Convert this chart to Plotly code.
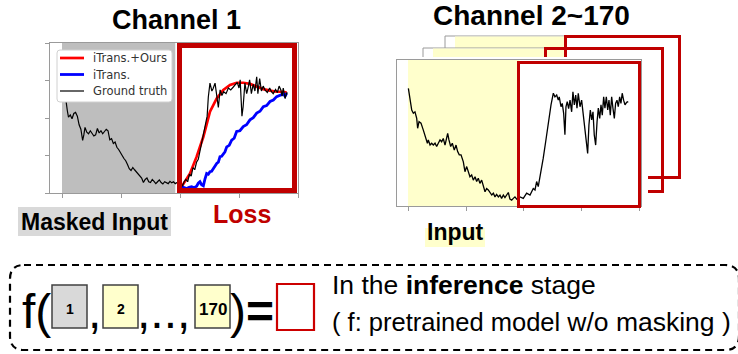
import plotly.graph_objects as go

W, H = 738, 354

# ---------------- data (time index, value in axis units 0..4) ----------------
# Channel 1 ground truth (input 0..96, horizon 96..192)
ch1_gt_t = [0, 1.5, 3, 4.5, 5.5, 7, 8.5, 10, 11.5, 13, 14.5, 16, 17.5, 18.5, 19.5, 21, 22.5, 24, 25.5,
            27, 28.5, 30, 31.5, 33, 34.5, 36, 37.5, 39, 40.5, 42, 43.5, 45, 46.5, 48, 49.5, 51, 52.5,
            54, 55.5, 57, 58.5, 60, 61.5, 63, 64.5, 66, 67.5, 69, 70.5, 72, 73.5, 75, 76.5, 78, 79.5,
            81, 82.5, 84, 85.5, 87, 88.5, 90, 91.5, 93, 94.5, 96, 97.5, 99, 100.5, 102, 103.5, 105,
            106.5, 108, 109.5, 111, 112.5, 114, 115.5, 117, 118.5, 120, 121.5, 123, 124, 125.4, 127,
            128, 129.7, 131.4, 132.5, 134, 135.5, 137, 139, 141, 143, 145, 147, 148.5, 150, 151,
            152.5, 153.5, 155, 156.5, 158, 159, 160.5, 162, 163.5, 165, 166, 167.5, 169, 170.5, 172,
            174, 176, 177.5, 179, 181, 182.5, 184, 185.5, 186.5, 187.5, 189, 190.5, 191]
ch1_gt = [3.25, 2.95, 2.55, 2.2, 2.02, 2.08, 1.98, 2.12, 2.15, 2.05, 1.82, 1.7, 1.4, 1.55, 1.75, 1.62,
          1.58, 1.66, 1.6, 1.52, 1.55, 1.72, 1.6, 1.66, 1.58, 1.64, 1.7, 1.66, 1.42, 1.45, 1.32, 1.36,
          1.22, 1.16, 1.06, 1.0, 0.92, 0.86, 0.76, 0.65, 0.6, 0.68, 0.62, 0.56, 0.52, 0.47, 0.4, 0.28,
          0.36, 0.4, 0.3, 0.28, 0.36, 0.31, 0.25, 0.3, 0.35, 0.28, 0.24, 0.3, 0.28, 0.25, 0.31, 0.27,
          0.3, 0.25, 0.28, 0.22, 0.3, 0.18, 0.3, 0.36, 0.3, 0.5, 0.45, 0.68, 0.62, 0.82, 0.9, 1.12,
          1.35, 1.55, 1.8, 2.05, 2.56, 2.93, 2.72, 2.78, 2.93, 2.5, 2.28, 2.75, 2.6, 2.7, 2.65, 2.8,
          2.75, 2.82, 2.88, 2.95, 2.8, 3.02, 2.05, 2.3, 2.93, 2.65, 2.85, 3.02, 2.65, 2.9, 2.72, 3.1,
          2.65, 3.05, 2.72, 2.85, 2.75, 2.68, 2.8, 2.7, 2.65, 2.76, 2.68, 2.85, 2.75, 2.58, 2.8, 2.52,
          2.68, 2.65]

# Channel 1 prediction: iTrans.+Ours
ch1_ours_t = [101.4, 108.5, 114.1, 119.8, 125.4, 131.1, 136.7, 142.4, 148, 153.6, 159.3, 165,
              170.6, 176.3, 181.9, 187.5, 190.4]
ch1_ours = [0.17, 0.52, 0.97, 1.5, 2.17, 2.52, 2.75, 2.88, 2.94, 2.94, 2.91, 2.84, 2.77, 2.73,
            2.7, 2.7, 2.68]

# Channel 1 prediction: iTrans.
ch1_itrans_t = [101.4, 103.5, 105.6, 107.7, 109.9, 112, 114.1, 115.5, 116.9, 118.3, 119.8, 121.2,
                122.6, 124, 125.4, 126.8, 128.2, 129.6, 131.1, 132.5, 133.9, 135.3, 136.7, 138.1,
                139.6, 141.7, 143.8, 145.9, 148, 150.8, 153.6, 156.4, 159.3, 162.1, 165, 167.8,
                170.6, 173.4, 176.3, 179.1, 181.9, 184.7, 187.5, 189, 190.4]
ch1_itrans = [0.17, 0.14, 0.12, 0.15, 0.17, 0.14, 0.18, 0.26, 0.3, 0.22, 0.19, 0.38, 0.52, 0.5,
              0.57, 0.58, 0.66, 0.7, 0.79, 0.82, 0.97, 0.98, 1.06, 1.1, 1.23, 1.27, 1.41, 1.46,
              1.64, 1.66, 1.77, 1.82, 1.95, 2.01, 2.13, 2.18, 2.3, 2.33, 2.44, 2.48, 2.57, 2.6,
              2.64, 2.58, 2.66]

# Channel 2~170 (front panel) ground truth
ch2_gt_t = [0.3, 1.7, 3.2, 4.6, 6, 7.5, 8.3, 9.5, 11.2, 13.2, 15.2, 16.7, 17.5, 19, 20.4, 21.8,
            23.3, 24.7, 26.1, 27.6, 29, 30.4, 31.9, 33.4, 34.2, 35.3, 36.8, 38.2, 39.9, 41.4,
            42.8, 44.2, 45.7, 47.7, 49.1, 50.6, 52, 53.4, 54.9, 56.3, 57.8, 59.2, 60.6, 62, 63.5,
            64.9, 66.4, 67.8, 69.2, 72.2, 73.6, 75, 76.4, 77.9, 79.3, 80.7, 82.2, 83.6, 85.1,
            86.5, 87.9, 89.4, 90.8, 92.2, 93.7, 96.6, 99.4, 102.3, 105.2, 108, 109.5, 110.9,
            112.3, 114.7, 116.6, 118.7, 121, 123.3, 125.3, 126.7, 128.2, 129.6, 130.4, 131.9,
            133, 134.2, 135.3, 136.2, 137.3, 138.5, 139.7, 141.1, 142.2, 143.4, 144.6, 145.7,
            146.8, 148.3, 149.7, 151.1, 152.6, 153.7, 154.9, 156, 157.2, 158.4, 159.5, 160.6,
            161.8, 163, 164.1, 165.3, 166.4, 167.5, 168.7, 169.8, 171, 172.2, 173.3, 174.4,
            175.6, 176.7, 177.9, 179, 180.2, 181.3, 182.5, 183.6, 184.7, 185.9, 187.1, 188.5, 189.9]
ch2_gt = [3.22, 2.95, 2.63, 2.54, 2.58, 2.4, 2.13, 2.31, 2.27, 2.08, 1.85, 1.72, 1.81, 1.67, 1.72,
          1.67, 1.72, 1.63, 1.72, 1.81, 1.76, 1.85, 1.67, 1.95, 1.99, 1.81, 1.63, 1.72, 1.53, 1.67,
          1.49, 1.4, 1.4, 1.21, 0.94, 1.08, 0.9, 0.8, 0.85, 0.71, 0.8, 0.67, 0.76, 0.62, 0.71,
          0.53, 0.39, 0.48, 0.44, 0.3, 0.35, 0.25, 0.32, 0.25, 0.3, 0.21, 0.3, 0.23, 0.32, 0.37,
          0.19, 0.16, 0.21, 0.25, 0.19, 0.25, 0.21, 0.35, 0.3, 0.48, 0.44, 0.67, 0.53, 0.94, 1.31,
          1.76, 2.31, 2.77, 3.09, 2.99, 3.04, 2.9, 2.99, 2.72, 2.81, 2.54, 1.95, 2.72, 2.86, 2.67,
          2.9, 2.58, 3.13, 2.77, 3.04, 2.68, 3.09, 2.72, 2.9, 2.49, 1.95, 1.72, 1.44, 2.22, 2.63,
          2.36, 2.58, 1.95, 1.67, 2.31, 2.68, 2.4, 2.77, 2.49, 2.99, 2.68, 2.99, 2.63, 2.9, 2.49,
          2.99, 2.68, 2.4, 2.81, 2.9, 2.72, 2.99, 2.81, 3.09, 2.9, 2.77, 2.84, 2.86]

x_ticks = [0, 50, 100, 150, 200]
y_ticks = [0, 1, 2, 3, 4]
input_len = 96
legend_names = ["iTrans.+Ours", "iTrans.", "Ground truth"]
legend_colors = ["#ff0000", "#0000ff", "black"]
legend_widths = [2.7, 2.8, 1.2]

FONT = "Liberation Sans, Arial, sans-serif"
DARK_RED = "#c00000"
YELLOW = "#ffffcc"
GRAY_BG = "#d9d9d9"
FRAME = "#9a9a9a"


def px(x):
    return x / W


def py(y):
    return 1 - y / H


fig = go.Figure()
fig.add_trace(go.Scatter(x=ch1_ours_t, y=ch1_ours, mode="lines", name=legend_names[0],
                         line=dict(color=legend_colors[0], width=legend_widths[0]),
                         xaxis="x", yaxis="y", showlegend=False))
fig.add_trace(go.Scatter(x=ch1_itrans_t, y=ch1_itrans, mode="lines", name=legend_names[1],
                         line=dict(color=legend_colors[1], width=legend_widths[1]),
                         xaxis="x", yaxis="y", showlegend=False))
fig.add_trace(go.Scatter(x=ch1_gt_t, y=ch1_gt, mode="lines", name=legend_names[2],
                         line=dict(color=legend_colors[2], width=legend_widths[2]),
                         xaxis="x", yaxis="y", showlegend=False))
fig.add_trace(go.Scatter(x=ch2_gt_t, y=ch2_gt, mode="lines", showlegend=False,
                         line=dict(color="black", width=1.3), xaxis="x2", yaxis="y2"))

shapes = []


def prect(x0, y0, x1, y1, fill=None, line_color=None, lw=1, layer="below"):
    d = dict(type="rect", xref="paper", yref="paper", x0=px(x0), x1=px(x1), y0=py(y1), y1=py(y0),
             layer=layer, line=dict(width=lw if line_color else 0, color=line_color or "rgba(0,0,0,0)"),
             fillcolor=fill or "rgba(0,0,0,0)")
    shapes.append(d)


def rounded_path(x0, y0, x1, y1, r):
    return (f"M {px(x0 + r)},{py(y0)} L {px(x1 - r)},{py(y0)} Q {px(x1)},{py(y0)} {px(x1)},{py(y0 + r)} "
            f"L {px(x1)},{py(y1 - r)} Q {px(x1)},{py(y1)} {px(x1 - r)},{py(y1)} "
            f"L {px(x0 + r)},{py(y1)} Q {px(x0)},{py(y1)} {px(x0)},{py(y1 - r)} "
            f"L {px(x0)},{py(y0 + r)} Q {px(x0)},{py(y0)} {px(x0 + r)},{py(y0)} Z")


# label backgrounds
prect(18, 207, 171, 236, fill=GRAY_BG)
prect(425, 218, 485, 247, fill=YELLOW)

# back panel (channel 170)
prect(445, 36, 565, 180, fill="white", line_color=FRAME)
prect(455, 36.5, 564, 179.5, fill=YELLOW)
prect(565.5, 36.5, 679.5, 177.5, line_color=DARK_RED, lw=3)
# middle panel
prect(423, 48, 545, 193, fill="white", line_color=FRAME)
prect(433, 48.5, 544, 192.5, fill=YELLOW)
prect(545.5, 48.5, 662.5, 191.5, line_color=DARK_RED, lw=3)
# front panel white cover
prect(393, 57, 648, 228, fill="white")

# dashed rounded box
shapes.append(dict(type="path", xref="paper", yref="paper", path=rounded_path(10, 265, 739, 350, 14),
                   layer="below", line=dict(color="black", width=2.2, dash="7px,5px")))

# channel boxes in formula
prect(52, 285, 87, 328, fill=GRAY_BG, line_color="#404040", lw=1.5)
prect(103, 285, 138, 328, fill=YELLOW, line_color="#404040", lw=1.5)
prect(195, 285, 230, 328, fill=YELLOW, line_color="#404040", lw=1.5)
prect(277, 284, 314, 330, line_color="#cc0000", lw=2.2)

# shaded input regions (data coordinates)
shapes.append(dict(type="rect", xref="x", yref="y", x0=0, x1=input_len, y0=0, y1=4,
                   fillcolor="#bebebe", line=dict(width=0), layer="below"))
shapes.append(dict(type="rect", xref="x2", yref="y2", x0=0, x1=input_len, y0=0, y1=4,
                   fillcolor=YELLOW, line=dict(width=0), layer="below"))

# red loss boxes (above traces)
prect(179.5, 45.5, 294.5, 190.5, line_color=DARK_RED, lw=5, layer="above")
prect(518.5, 62.5, 639.5, 206.5, line_color=DARK_RED, lw=3, layer="above")

annotations = []


def ann(text, x, y, size, color="black", xanchor="center", family=FONT):
    annotations.append(dict(text=text, x=px(x), y=py(y), xref="paper", yref="paper",
                            xanchor=xanchor, yanchor="middle", showarrow=False,
                            font=dict(family=family, size=size, color=color)))


# legend (matplotlib style) for channel 1
shapes.append(dict(type="path", xref="paper", yref="paper", path=rounded_path(57, 50, 172, 102, 3),
                   fillcolor="white", line=dict(color="#d0d0d0", width=1), layer="above"))
legend_rows = [58, 74.5, 91]
for name, col, lw, yy in zip(legend_names, legend_colors, legend_widths, legend_rows):
    shapes.append(dict(type="line", xref="paper", yref="paper", x0=px(60), x1=px(84),
                       y0=py(yy), y1=py(yy), line=dict(color=col, width=lw), layer="above"))
    ann(name, 91, yy, 11.5, color="#333333", xanchor="left", family="DejaVu Sans")

ann("<b>Channel 1</b>", 176, 20.5, 27)
ann("<b>Channel 2~170</b>", 531, 15.5, 28)
ann("<b>Masked Input</b>", 94, 222, 23)
ann("<b>Loss</b>", 242, 214, 25, color=DARK_RED)
ann("<b>Input</b>", 455, 232, 23)

ann("f(", 20, 311, 48, xanchor="left")
ann("<b>1</b>", 70, 309, 14)
ann(",", 94, 311, 48)
ann("<b>2</b>", 121, 309, 14)
ann(",..,", 163, 311, 48)
ann("<b>170</b>", 212.5, 309.5, 17)
ann(")<b>=</b>", 228, 311, 48, xanchor="left")
ann("In the <b>inference</b> stage", 330, 285, 26.5, xanchor="left")
ann("( f: pretrained model <span style='font-size:26.5px'>w/o masking )</span>", 330, 322, 25.5,
    xanchor="left")

axis_common = dict(showgrid=False, zeroline=False, showline=True, mirror=True, linecolor=FRAME,
                   linewidth=1, tickwidth=1, tickcolor=FRAME, ticklen=4,
                   showticklabels=False, fixedrange=True)

fig.update_layout(
    width=W, height=H, margin=dict(l=0, r=0, t=0, b=0),
    paper_bgcolor="white", plot_bgcolor="rgba(0,0,0,0)",
    xaxis=dict(domain=[px(50), px(298)], range=[-10.17, 200], tickvals=x_ticks, anchor="y",
               ticks="outside", **axis_common),
    yaxis=dict(domain=[py(193), py(43)], range=[0, 4], tickvals=y_ticks, anchor="x",
               ticks="outside", **axis_common),
    xaxis2=dict(domain=[px(397), px(641)], range=[-9.5, 200.9], tickvals=x_ticks, anchor="y2",
                ticks="outside", **axis_common),
    yaxis2=dict(domain=[py(206), py(60)], range=[0, 4], tickvals=[], anchor="x2", ticks="",
                **axis_common),
    showlegend=False,
    shapes=shapes, annotations=annotations,
)

fig.write_html("out.html", config={"displayModeBar": False},
               post_script="document.body.style.margin='0px';")
